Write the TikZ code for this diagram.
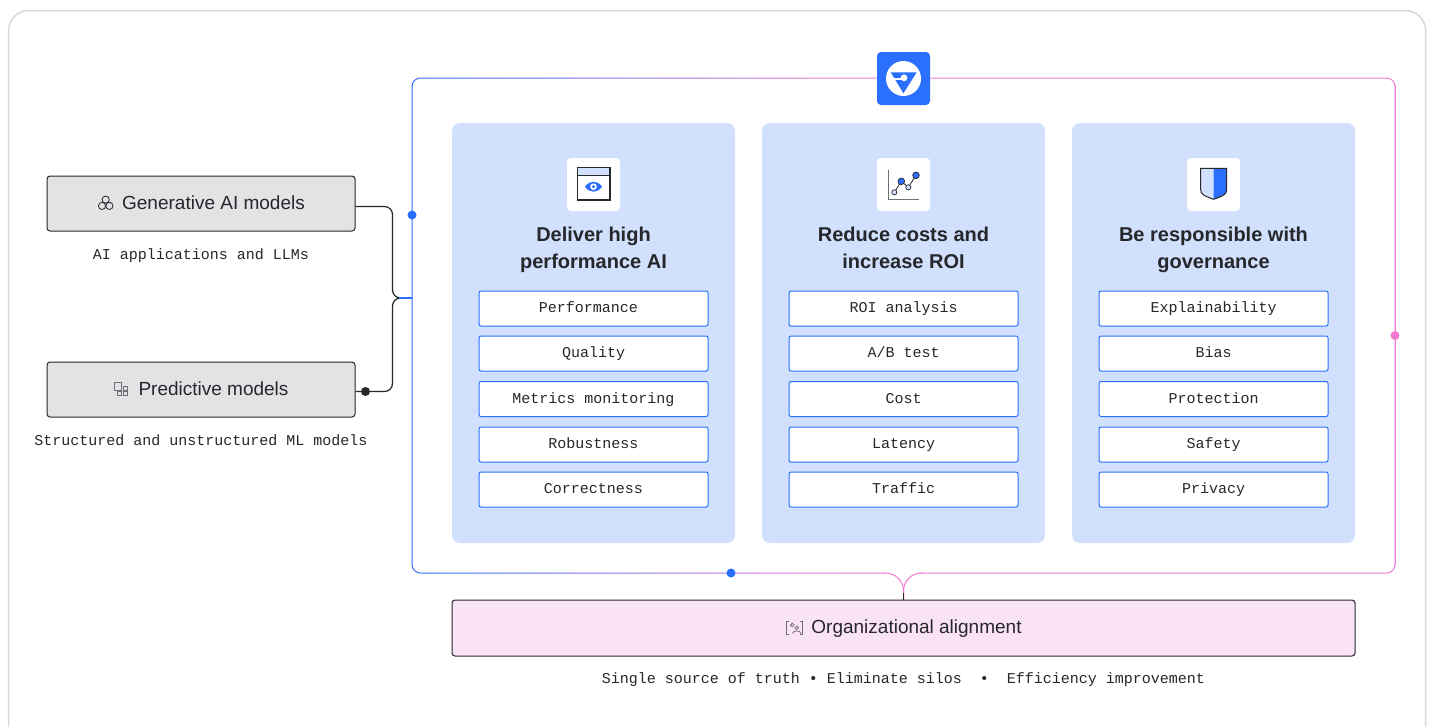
\documentclass[tikz,border=0pt]{standalone}
\usepackage{fontspec}
\usepackage{tikz}
\setsansfont{Liberation Sans}
\setmonofont{Liberation Mono}
\definecolor{inkdark}{HTML}{26272B}
\definecolor{iconblue}{HTML}{2B6FFF}
\definecolor{panelblue}{HTML}{D1E0FD}
\definecolor{linkpink}{HTML}{F27AD3}
\definecolor{modelgray}{HTML}{E3E3E6}
\definecolor{alignpink}{HTML}{FAE3F6}
\definecolor{cardgray}{HTML}{D9D9DD}
\definecolor{icongray}{HTML}{6E6E75}
\pgfdeclarehorizontalshading{framegrad}{100bp}{color(0bp)=(iconblue); color(25bp)=(iconblue); color(47bp)=(linkpink); color(100bp)=(linkpink)}

\begin{document}
\begin{tikzpicture}[x=1pt, y=-1pt,
	modelbox/.style={draw=inkdark, line width=1pt, fill=modelgray, rounded corners=3pt, minimum width=308pt, minimum height=55pt, inner sep=0pt, text=inkdark, text height=14pt, text depth=2.5pt, font=\sffamily\fontsize{19}{22}\selectfont},
	caption/.style={inner sep=0pt, text=inkdark, text height=9pt, text depth=0pt, font=\ttfamily\fontsize{15}{18}\selectfont},
	panel/.style={fill=panelblue, rounded corners=8pt, minimum width=283pt, minimum height=420pt, inner sep=0pt},
	tile/.style={fill=white, rounded corners=4pt, minimum width=53pt, minimum height=53pt, inner sep=0pt},
	heading/.style={inner sep=0pt, align=center, text=inkdark, font=\sffamily\bfseries\fontsize{20}{27}\selectfont},
	metric/.style={draw=iconblue, line width=1pt, fill=white, rounded corners=2pt, minimum width=229pt, minimum height=35pt, inner sep=0pt, text=inkdark, text height=8pt, text depth=0pt, font=\ttfamily\fontsize{15}{18}\selectfont},
	wire/.style={draw=inkdark, line width=1.2pt},
	bluewire/.style={draw=iconblue, line width=1.2pt},
	pinkwire/.style={draw=linkpink, line width=1pt},
	spot/.style={circle, inner sep=0pt, minimum size=9pt},
	thinicon/.style={draw=icongray, line width=.8pt}]
	\clip (0,0) rectangle (1430,726);
	\fill[white] (0,0) rectangle (1430,726);
	\draw[cardgray, line width=1.5pt, rounded corners=20pt] (8.5,10.5) rectangle (1425.5,746);

	\shade[shading=framegrad, even odd rule] (411.5,77.5) [rounded corners=9pt] rectangle (1395.5,573.5) (412.5,78.5) [rounded corners=8pt] rectangle (1394.5,572.5);
	\fill[white] (886,570) rectangle (921,577);

	\node[modelbox] (gen) at (201,203.5) {\hspace*{25pt}Generative AI models};
	\node[modelbox] (pred) at (201,389.5) {\hspace*{25pt}Predictive models};
	\node[caption] (gencap) at (201,254.5) {AI applications and LLMs};
	\node[caption] (predcap) at (201,440.5) {Structured and unstructured ML models};

	\node[panel] (perf) at (593.5,333) {};
	\node[panel] (cost) at (903.5,333) {};
	\node[panel] (gov) at (1213.5,333) {};

	\node[tile] (perficon) at (593.5,184.5) {};
	\node[tile] (costicon) at (903.5,184.5) {};
	\node[tile] (govicon) at (1213.5,184.5) {};
	\node[heading] (perftitle) at (593.5,250) {Deliver high\\performance AI};
	\node[heading] (costtitle) at (903.5,248) {Reduce costs and\\increase ROI};
	\node[heading] (govtitle) at (1213.5,250) {Be responsible with\\governance};

	\node[metric] (perf1) at (593.5,308.5) {Performance\hspace*{10pt}};
	\node[metric] (perf2) at (593.5,353.5) {Quality};
	\node[metric] (perf3) at (593.5,399) {Metrics monitoring};
	\node[metric] (perf4) at (593.5,444.5) {Robustness};
	\node[metric] (perf5) at (593.5,489.5) {Correctness};
	\node[metric] (cost1) at (903.5,308.5) {ROI analysis};
	\node[metric] (cost2) at (903.5,353.5) {A/B test};
	\node[metric] (cost3) at (903.5,399) {Cost};
	\node[metric] (cost4) at (903.5,444.5) {Latency};
	\node[metric] (cost5) at (903.5,489.5) {Traffic};
	\node[metric] (gov1) at (1213.5,308.5) {Explainability};
	\node[metric] (gov2) at (1213.5,353.5) {Bias};
	\node[metric] (gov3) at (1213.5,399) {Protection};
	\node[metric] (gov4) at (1213.5,444.5) {Safety};
	\node[metric] (gov5) at (1213.5,489.5) {Privacy};

	\node[modelbox, fill=alignpink, minimum width=903pt, minimum height=56pt] (org) at (903.5,628) {\hspace*{26pt}Organizational alignment};
	\node[caption] (orgcap) at (903.5,678.5) {Single source of truth • Eliminate silos ~•~ Efficiency improvement};

	\coordinate (busmid) at (392.5,298);
	\coordinate (bustail) at (399,298);
	\coordinate (framein) at (412,298);
	\coordinate (branchleft) at (884,573);
	\coordinate (branchright) at (923,573);
	\coordinate (branchtail) at (903.5,593);
	\draw[wire, rounded corners=8pt] (gen.east |- 0,206.5) -| (busmid) -- (framein);
	\draw[wire, rounded corners=8pt] (pred.east |- 0,391.5) -| (busmid) -- (framein);
	\draw[bluewire] (bustail) -- (framein);
	\draw[pinkwire, rounded corners=18pt] (branchleft) -| (org.north);
	\draw[pinkwire, rounded corners=18pt] (branchright) -| (org.north);
	\draw[wire] (branchtail) -- (org.north);

	\node[spot, fill=iconblue] (dotleft) at (412,215) {};
	\node[spot, fill=linkpink] (dotright) at (1395,335.5) {};
	\node[spot, fill=iconblue] (dotbottom) at (731,573) {};
	\node[spot, fill=inkdark] (dotpred) at (365.5,391.5) {};

	\node[tile, fill=iconblue] (logo) at (903.5,78.5) {};
	\fill[white] (logo.center) circle (17.5);
	\fill[iconblue] (890.7,72.3) -- (916.7,72.3) -- (903.4,93.3) -- cycle;
	\draw[white, line width=2pt] (893,78.5) -- (903,78.5);
	\fill[white] (904,77.8) circle (3.4);

	\draw[inkdark, fill=white, line width=1.5pt] (577.3,167.3) rectangle (610,200);
	\draw[inkdark, fill=panelblue, line width=1.2pt] (577.3,167.3) rectangle (610,175.2);
	\fill[iconblue] (585,186.7) .. controls (589.5,180) and (597.5,180) .. (602,186.7) .. controls (597.5,193.4) and (589.5,193.4) .. (585,186.7) -- cycle;
	\fill[white] (593.5,186.7) circle (3.3);
	\fill[iconblue] (593.5,186.7) circle (1.7);

	\draw[icongray, line width=1.3pt] (888.3,170) -- (888.3,199.3) -- (919.3,199.3);
	\draw[inkdark, line width=.8pt] (894.3,192.3) -- (901.3,181.3) -- (908.3,187.3) -- (916,175.3);
	\draw[inkdark, fill=panelblue, line width=.7pt] (894.3,192.3) circle (2.6);
	\draw[inkdark, fill=panelblue, line width=.7pt] (908.3,187.3) circle (2.6);
	\draw[inkdark, fill=iconblue, line width=.7pt] (901.3,181.3) circle (3.3);
	\draw[inkdark, fill=iconblue, line width=.7pt] (916,175.3) circle (3.3);

	\fill[panelblue] (1200.7,168.3) -- (1213.6,168.3) -- (1213.6,199.3) .. controls (1203,195.5) and (1200.7,194) .. (1200.7,189.5) -- cycle;
	\fill[iconblue] (1226.7,168.3) -- (1213.6,168.3) -- (1213.6,199.3) .. controls (1224,195.5) and (1226.7,194) .. (1226.7,189.5) -- cycle;
	\draw[inkdark, line width=1pt] (1200.7,168.3) -- (1226.7,168.3) -- (1226.7,189.5) .. controls (1226.7,194) and (1224,195.5) .. (1213.6,199.3) .. controls (1203,195.5) and (1200.7,194) .. (1200.7,189.5) -- cycle;

	\draw[thinicon, draw=inkdark] (105.7,199.6) circle (3.6);
	\draw[thinicon, draw=inkdark] (102,205.9) circle (3.6);
	\draw[thinicon, draw=inkdark] (109.4,205.9) circle (3.6);

	\draw[thinicon] (114,382.7) rectangle (121.7,390.7);
	\draw[thinicon] (123.3,386.7) rectangle (127.3,390);
	\draw[thinicon] (117.7,391.8) rectangle (121.3,395.3);
	\draw[thinicon] (123.3,391.8) rectangle (127.3,395.3);

	\draw[thinicon] (789,621) -- (786.8,621) -- (786.8,634.3) -- (789,634.3);
	\draw[thinicon] (800,621) -- (802.3,621) -- (802.3,634.3) -- (800,634.3);
	\draw[thinicon] (792.3,625) circle (1.8);
	\draw[thinicon] (796.8,627.8) circle (1.8);
	\draw[thinicon] (792.5,633.5) .. controls (793,630) and (800.5,630) .. (801,633.5);
\end{tikzpicture}
\end{document}
